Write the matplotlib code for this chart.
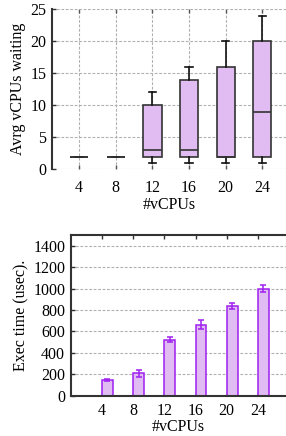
import matplotlib
matplotlib.use("Agg")
import matplotlib.pyplot as plt

plt.rcParams['font.family'] = ['Liberation Serif', 'DejaVu Serif']
plt.rcParams['font.size'] = 11.5

categories = ["4", "8", "12", "16", "20", "24"]
# box stats for avg vCPUs waiting
whislo = [2, 2, 1, 1, 1, 1]
q1 = [2, 2, 2, 2, 2, 2]
med = [2, 2, 3, 3, 2, 9]
q3 = [2, 2, 10, 14, 16, 20]
whishi = [2, 2, 12, 16, 20, 24]
# exec time
exec_mean = [145, 210, 523, 663, 840, 1000]
exec_err = [8, 32, 25, 45, 28, 30]

W, H = 286, 436
fig = plt.figure(figsize=(W / 100, H / 100), dpi=100)

fill = '#e0bcf2'
purple = '#a020f0'
grid_kw = dict(color='#b0b0b0', linestyle=(0, (2.5, 1.5)), linewidth=0.8)

# Top panel
ax1 = fig.add_axes([52 / W, (H - 169.3) / H, 1 - 52 / W, 160 / H])
pos = list(range(1, len(categories) + 1))
stats = [dict(whislo=whislo[i], q1=q1[i], med=med[i], q3=q3[i], whishi=whishi[i], fliers=[])
         for i in range(len(categories))]
ax1.bxp(stats, positions=pos, widths=0.5, patch_artist=True, showfliers=False,
        boxprops=dict(facecolor=fill, edgecolor='#333333', linewidth=1.2),
        medianprops=dict(color='#333333', linewidth=1.2),
        whiskerprops=dict(color='#111111', linewidth=1.2),
        capprops=dict(color='#111111', linewidth=1.2), capwidths=0.2)
ax1.set_xlim(0.26, 0.26 + (W - 52) / 36.64)
ax1.set_ylim(0, 25)
ax1.set_yticks([0, 5, 10, 15, 20, 25])
ax1.set_xticks(pos)
ax1.set_xticklabels(categories)
ax1.grid(True, **grid_kw)
ax1.set_axisbelow(True)
for s in ['top', 'right', 'bottom']:
    ax1.spines[s].set_visible(False)
ax1.spines['left'].set_linewidth(1.5)
ax1.spines['left'].set_color('#333333')
ax1.tick_params(axis='y', direction='in', length=3, width=1, color='#333333', pad=4)
ax1.tick_params(axis='x', direction='in', length=3, width=1, color='#555555', top=True, pad=8)
ax1.set_ylabel('Avrg vCPUs waiting', labelpad=3)
ax1.set_xlabel('#vCPUs', labelpad=0.5)

# Bottom panel
ax2 = fig.add_axes([70.7 / W, (H - 395.7) / H, 1 - 70.7 / W, (395.7 - 235) / H])
ax2.bar(pos, exec_mean, width=0.35, align='edge', color=fill, edgecolor=purple, linewidth=1.1,
        zorder=2)
ax2.errorbar([p + 0.175 for p in pos], exec_mean, yerr=exec_err, fmt='none', ecolor=purple,
             elinewidth=1.1, capsize=2.5, capthick=1.1, zorder=3)
ax2.set_xlim(0, (W - 70.7) / 31.2)
ax2.set_ylim(0, 1500)
ax2.set_yticks(range(0, 1401, 200))
ax2.set_xticks(pos)
ax2.set_xticklabels(categories)
ax2.yaxis.grid(True, **grid_kw)
ax2.set_axisbelow(True)
ax2.spines['right'].set_visible(False)
for s in ['left', 'top', 'bottom']:
    ax2.spines[s].set_linewidth(1.5)
    ax2.spines[s].set_color('#333333')
ax2.tick_params(axis='y', direction='in', length=3, width=1, color='#333333', pad=4)
ax2.tick_params(axis='x', direction='in', length=3, width=1, color='#333333', top=True, pad=5.5)
ax2.set_ylabel('Exec time (usec).', labelpad=3)
ax2.set_xlabel('#vCPUs', labelpad=-0.3)

fig.savefig('out.png', dpi=100)
